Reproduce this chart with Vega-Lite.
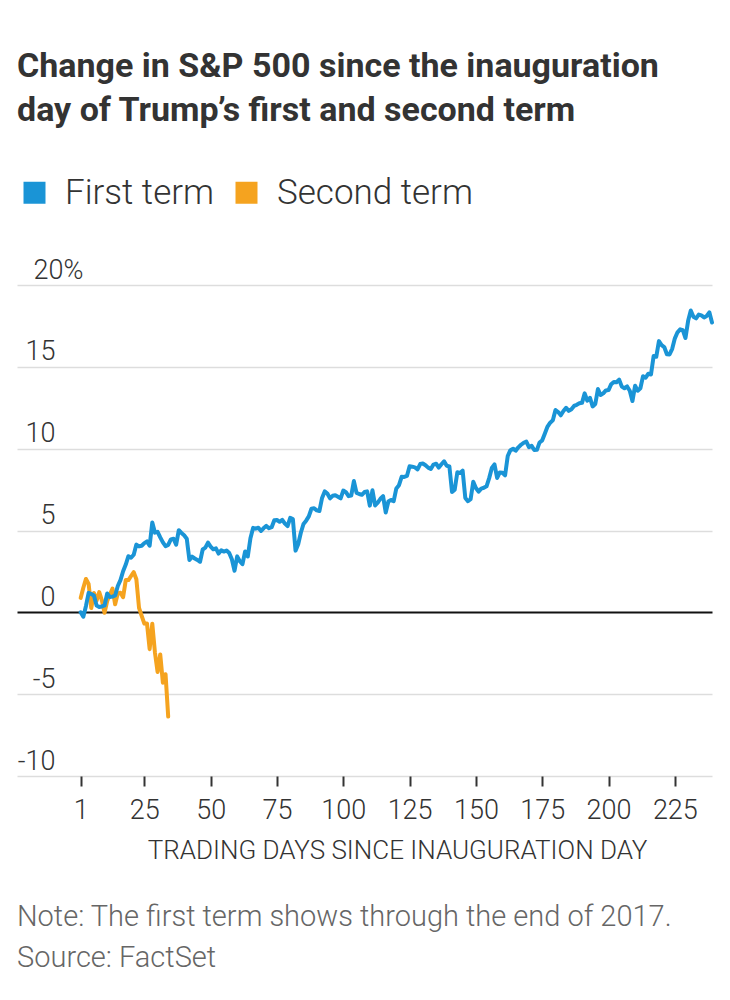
{
  "$schema": "https://vega.github.io/schema/vega-lite/v6.json",
  "background": "white",
  "padding": {"top": 50, "left": 17, "right": 18, "bottom": 10},
  "config": {"view": {"stroke": null}, "font": "Roboto"},
  "title": {
    "text": ["Change in S&P 500 since the inauguration", "day of Trump’s first and second term"],
    "anchor": "start", "font": "Roboto", "fontSize": 34, "fontWeight": 700, "color": "#333333", "lineHeight": 44, "offset": 47
  },
  "datasets": {
    "first": [
      {"day":1,"pct":0},{"day":2,"pct":-0.27},{"day":3,"pct":0.39},{"day":4,"pct":1.19},{"day":5,"pct":1.12},{"day":6,"pct":1.03},{"day":7,"pct":0.42},{"day":8,"pct":0.33},{"day":9,"pct":0.36},{"day":10,"pct":0.42},
      {"day":11,"pct":1.15},{"day":12,"pct":0.94},{"day":13,"pct":0.96},{"day":14,"pct":1.03},{"day":15,"pct":1.61},{"day":16,"pct":1.97},{"day":17,"pct":2.51},{"day":18,"pct":2.92},{"day":19,"pct":3.43},{"day":20,"pct":3.34},
      {"day":21,"pct":3.52},{"day":22,"pct":4.14},{"day":23,"pct":4.03},{"day":24,"pct":4.07},{"day":25,"pct":4.23},{"day":26,"pct":4.33},{"day":27,"pct":4.07},{"day":28,"pct":5.49},{"day":29,"pct":4.87},{"day":30,"pct":4.92},
      {"day":31,"pct":4.58},{"day":32,"pct":4.27},{"day":33,"pct":4.04},{"day":34,"pct":4.12},{"day":35,"pct":4.46},{"day":36,"pct":4.5},{"day":37,"pct":4.14},{"day":38,"pct":5.02},{"day":39,"pct":4.85},{"day":40,"pct":4.71},
      {"day":41,"pct":4.5},{"day":42,"pct":3.2},{"day":43,"pct":3.4},{"day":44,"pct":3.29},{"day":45,"pct":3.2},{"day":46,"pct":3.09},{"day":47,"pct":3.84},{"day":48,"pct":3.95},{"day":49,"pct":4.26},{"day":50,"pct":4.02},
      {"day":51,"pct":3.85},{"day":52,"pct":3.91},{"day":53,"pct":3.59},{"day":54,"pct":3.79},{"day":55,"pct":3.71},{"day":56,"pct":3.78},{"day":57,"pct":3.63},{"day":58,"pct":3.24},{"day":59,"pct":2.54},{"day":60,"pct":3.42},
      {"day":61,"pct":3.12},{"day":62,"pct":2.94},{"day":63,"pct":3.72},{"day":64,"pct":3.41},{"day":65,"pct":4.53},{"day":66,"pct":5.16},{"day":67,"pct":5.11},{"day":68,"pct":5.17},{"day":69,"pct":4.97},{"day":70,"pct":5.15},
      {"day":71,"pct":5.28},{"day":72,"pct":5.14},{"day":73,"pct":5.2},{"day":74,"pct":5.63},{"day":75,"pct":5.64},{"day":76,"pct":5.53},{"day":77,"pct":5.65},{"day":78,"pct":5.42},{"day":79,"pct":5.27},{"day":80,"pct":5.77},
      {"day":81,"pct":5.7},{"day":82,"pct":3.77},{"day":83,"pct":4.16},{"day":84,"pct":4.86},{"day":85,"pct":5.4},{"day":86,"pct":5.6},{"day":87,"pct":5.86},{"day":88,"pct":6.33},{"day":89,"pct":6.36},{"day":90,"pct":6.23},
      {"day":91,"pct":6.19},{"day":92,"pct":6.99},{"day":93,"pct":7.39},{"day":94,"pct":7.26},{"day":95,"pct":6.96},{"day":96,"pct":7.12},{"day":97,"pct":7.15},{"day":98,"pct":7.06},{"day":99,"pct":6.96},{"day":100,"pct":7.44},
      {"day":101,"pct":7.34},{"day":102,"pct":7.1},{"day":103,"pct":7.13},{"day":104,"pct":8.02},{"day":105,"pct":7.3},{"day":106,"pct":7.23},{"day":107,"pct":7.18},{"day":108,"pct":7.35},{"day":109,"pct":7.39},{"day":110,"pct":6.52},
      {"day":111,"pct":7.46},{"day":112,"pct":6.53},{"day":113,"pct":6.7},{"day":114,"pct":6.94},{"day":115,"pct":7.1},{"day":116,"pct":6.1},{"day":117,"pct":6.77},{"day":118,"pct":6.87},{"day":119,"pct":6.79},{"day":120,"pct":7.57},
      {"day":121,"pct":7.77},{"day":122,"pct":8.28},{"day":123,"pct":8.27},{"day":124,"pct":8.33},{"day":125,"pct":8.92},{"day":126,"pct":8.9},{"day":127,"pct":8.86},{"day":128,"pct":8.74},{"day":129,"pct":9.06},{"day":130,"pct":9.09},
      {"day":131,"pct":8.99},{"day":132,"pct":8.84},{"day":133,"pct":8.76},{"day":134,"pct":9.03},{"day":135,"pct":9.08},{"day":136,"pct":8.84},{"day":137,"pct":9.05},{"day":138,"pct":9.23},{"day":139,"pct":8.96},{"day":140,"pct":8.92},
      {"day":141,"pct":7.35},{"day":142,"pct":7.49},{"day":143,"pct":8.56},{"day":144,"pct":8.51},{"day":145,"pct":8.66},{"day":146,"pct":6.99},{"day":147,"pct":6.79},{"day":148,"pct":6.91},{"day":149,"pct":7.98},{"day":150,"pct":7.6},
      {"day":151,"pct":7.38},{"day":152,"pct":7.56},{"day":153,"pct":7.61},{"day":154,"pct":7.7},{"day":155,"pct":8.2},{"day":156,"pct":8.82},{"day":157,"pct":9.04},{"day":158,"pct":8.21},{"day":159,"pct":8.55},{"day":160,"pct":8.53},
      {"day":161,"pct":8.37},{"day":162,"pct":9.55},{"day":163,"pct":9.91},{"day":164,"pct":10.0},{"day":165,"pct":9.88},{"day":166,"pct":10.08},{"day":167,"pct":10.24},{"day":168,"pct":10.36},{"day":169,"pct":10.43},{"day":170,"pct":10.09},
      {"day":171,"pct":10.17},{"day":172,"pct":9.92},{"day":173,"pct":9.93},{"day":174,"pct":10.38},{"day":175,"pct":10.51},{"day":176,"pct":10.92},{"day":177,"pct":11.35},{"day":178,"pct":11.59},{"day":179,"pct":11.73},{"day":180,"pct":12.36},
      {"day":181,"pct":12.24},{"day":182,"pct":12.04},{"day":183,"pct":12.3},{"day":184,"pct":12.5},{"day":185,"pct":12.31},{"day":186,"pct":12.41},{"day":187,"pct":12.61},{"day":188,"pct":12.68},{"day":189,"pct":12.77},{"day":190,"pct":12.8},
      {"day":191,"pct":13.38},{"day":192,"pct":12.93},{"day":193,"pct":13.11},{"day":194,"pct":12.58},{"day":195,"pct":12.73},{"day":196,"pct":13.64},{"day":197,"pct":13.28},{"day":198,"pct":13.38},{"day":199,"pct":13.56},{"day":200,"pct":13.58},
      {"day":201,"pct":13.94},{"day":202,"pct":14.08},{"day":203,"pct":14.06},{"day":204,"pct":14.22},{"day":205,"pct":13.79},{"day":206,"pct":13.69},{"day":207,"pct":13.8},{"day":208,"pct":13.54},{"day":209,"pct":12.91},{"day":210,"pct":13.84},
      {"day":211,"pct":13.54},{"day":212,"pct":13.69},{"day":213,"pct":14.43},{"day":214,"pct":14.34},{"day":215,"pct":14.58},{"day":216,"pct":14.53},{"day":217,"pct":15.66},{"day":218,"pct":15.62},{"day":219,"pct":16.57},{"day":220,"pct":16.33},
      {"day":221,"pct":16.21},{"day":222,"pct":15.77},{"day":223,"pct":15.76},{"day":224,"pct":16.1},{"day":225,"pct":16.74},{"day":226,"pct":17.11},{"day":227,"pct":17.29},{"day":228,"pct":17.24},{"day":229,"pct":16.76},{"day":230,"pct":17.81},
      {"day":231,"pct":18.44},{"day":232,"pct":18.06},{"day":233,"pct":17.96},{"day":234,"pct":18.19},{"day":235,"pct":18.14},{"day":236,"pct":18.02},{"day":237,"pct":18.11},{"day":238,"pct":18.33},{"day":239,"pct":17.71}
    ],
    "second": [
      {"day":1,"pct":0.88},{"day":2,"pct":1.5},{"day":3,"pct":2.04},{"day":4,"pct":1.74},{"day":5,"pct":0.26},{"day":6,"pct":1.18},{"day":7,"pct":0.71},{"day":8,"pct":1.24},{"day":9,"pct":0.73},{"day":10,"pct":-0.03},
      {"day":11,"pct":0.69},{"day":12,"pct":1.08},{"day":13,"pct":1.45},{"day":14,"pct":0.49},{"day":15,"pct":1.16},{"day":16,"pct":1.2},{"day":17,"pct":0.92},{"day":18,"pct":1.97},{"day":19,"pct":1.97},{"day":20,"pct":2.22},
      {"day":21,"pct":2.46},{"day":22,"pct":2.02},{"day":23,"pct":0.27},{"day":24,"pct":-0.22},{"day":25,"pct":-0.69},{"day":26,"pct":-0.68},{"day":27,"pct":-2.25},{"day":28,"pct":-0.7},{"day":29,"pct":-2.45},{"day":30,"pct":-3.64},
      {"day":31,"pct":-2.57},{"day":32,"pct":-4.3},{"day":33,"pct":-3.78},{"day":34,"pct":-6.37}
    ]
  },
  "vconcat": [
    {
      "width": 695,
      "height": 491,
      "title": {
        "text": ["Note: The first term shows through the end of 2017.", "Source: FactSet"],
        "orient": "bottom", "anchor": "start", "font": "Roboto", "fontSize": 29, "fontWeight": 300,
        "color": "#666666", "lineHeight": 41, "offset": 40
      },
      "encoding": {
        "x": {
          "field": "day", "type": "quantitative",
          "scale": {"domain": [-23, 239], "nice": false, "zero": false},
          "axis": {
            "values": [1, 25, 50, 75, 100, 125, 150, 175, 200, 225],
            "domain": false, "grid": false, "ticks": true, "tickSize": 10, "tickWidth": 2, "tickColor": "#333333",
            "labelFont": "Roboto", "labelFontSize": 27, "labelFontWeight": 300, "labelColor": "#333333",
            "labelPadding": 11, "labelOverlap": false, "labelFlush": false,
            "title": "TRADING DAYS SINCE INAUGURATION DAY",
            "titleFont": "Roboto", "titleFontSize": 26, "titleFontWeight": 300, "titleColor": "#333333",
            "titlePadding": 14, "titleX": 380
          }
        },
        "y": {
          "field": "pct", "type": "quantitative",
          "scale": {"domain": [-10, 20], "nice": false},
          "axis": {
            "values": [-10, -5, 0, 5, 10, 15, 20],
            "domain": false, "ticks": false, "tickSize": 0, "grid": true,
            "gridColor": {"condition": {"test": "datum.value === 0", "value": "#111111"}, "value": "#dddddd"},
            "gridWidth": {"condition": {"test": "datum.value === 0", "value": 2}, "value": 1.5},
            "labelExpr": "datum.value === 20 ? '20%' : '' + datum.value",
            "labelAlign": {"condition": {"test": "datum.value === 20", "value": "left"}, "value": "right"},
            "labelPadding": {"condition": {"test": "datum.value === 20", "value": -16}, "value": -38},
            "labelBaseline": "alphabetic", "labelOffset": -7,
            "labelFont": "Roboto", "labelFontSize": 27, "labelFontWeight": 300, "labelColor": "#333333",
            "labelOverlap": false, "labelFlush": false, "title": null
          }
        },
        "color": {
          "field": "term", "type": "nominal",
          "scale": {"domain": ["First term", "Second term"], "range": ["#1a94d6", "#f5a31f"]},
          "legend": {
            "title": null, "orient": "top", "direction": "horizontal", "offset": 45,
            "labelFont": "Roboto", "labelFontSize": 35, "labelFontWeight": 300, "labelColor": "#333333",
            "labelOffset": 13, "labelLimit": 400, "columnPadding": 14, "symbolType": "square", "symbolSize": 484, "symbolStrokeWidth": 0,
            "padding": 0,
            "encode": {"symbols": {"update": {"fill": {"scale": "color", "field": "value"}, "stroke": {"value": "transparent"}, "shape": {"value": "square"}, "size": {"value": 484}, "opacity": {"value": 1}}}}
          }
        }
      },
      "layer": [
        {
          "data": {"name": "second"},
          "transform": [{"calculate": "'Second term'", "as": "term"}],
          "mark": {"type": "line", "strokeWidth": 4, "strokeJoin": "round", "strokeCap": "round"}
        },
        {
          "data": {"name": "first"},
          "transform": [{"calculate": "'First term'", "as": "term"}],
          "mark": {"type": "line", "strokeWidth": 4, "strokeJoin": "round", "strokeCap": "round"}
        }
      ]
    }
  ]
}
